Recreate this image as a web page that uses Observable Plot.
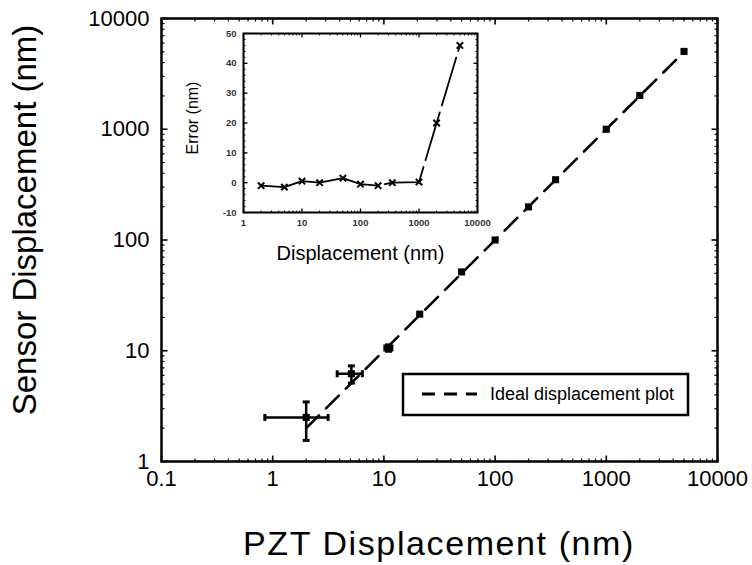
<!DOCTYPE html>
<html>
<head>
<meta charset="utf-8">
<script src="https://cdn.jsdelivr.net/npm/d3@7"></script>
<script src="https://cdn.jsdelivr.net/npm/@observablehq/plot@0.6"></script>
<style>
  html, body { margin: 0; padding: 0; background: #fff; }
  #wrap { position: relative; width: 752px; height: 565px; font-family: "Liberation Sans", Arial, sans-serif; }
  #inset { position: absolute; left: 190px; top: 20px; }
</style>
</head>
<body>
<div id="wrap"><div id="main"></div><div id="inset"></div></div>
<script>
// ---- Main chart data ----
const pzt       = [2, 5.1, 11, 21, 50, 100, 200, 350, 1000, 2000, 5000];
const sensor    = [2.5, 6.2, 10.6, 21.4, 51.5, 100, 199, 350, 1000, 2020, 5046];
const pztErr    = [1.15, 1.3, 0.8, 0, 0, 0, 0, 0, 0, 0, 0];
const sensorErr = [0.95, 1.1, 0.7, 0, 0, 0, 0, 0, 0, 0, 0];
const idealX    = [2, 5000];
const xTicks      = [0.1, 1, 10, 100, 1000, 10000];
const xTickLabels = ["0.1", "1", "10", "100", "1000", "10000"];
const yTicks      = [1, 10, 100, 1000, 10000];
const yTickLabels = ["1", "10", "100", "1000", "10000"];
const xTitle = "PZT Displacement (nm)";
const yTitle = "Sensor Displacement (nm)";
const legendLabel = "Ideal displacement plot";

// ---- Inset data ----
const inX   = [2, 5, 10, 20, 50, 100, 200, 350, 1000, 2000, 5000];
const inErr = [-1, -1.5, 0.5, 0, 1.5, -0.5, -1, 0, 0.2, 20, 46];
const inXTicks = [1, 10, 100, 1000, 10000];
const inXTickLabels = ["1", "10", "100", "1000", "10000"];
const inYTicks = [-10, 0, 10, 20, 30, 40, 50];
const inYTickLabels = ["-10", "0", "10", "20", "30", "40", "50"];
const inXTitle = "Displacement (nm)";
const inYTitle = "Error (nm)";

// ---- helpers ----
const FONT = "'Liberation Sans', Arial, sans-serif";
const seg = (dx, dy) => ({draw(ctx, size) { const L = Math.sqrt(size / Math.PI); ctx.moveTo(0, 0); ctx.lineTo(dx * L, dy * L); }});
const capV = {draw(ctx, size) { const L = Math.sqrt(size / Math.PI); ctx.moveTo(0, -L); ctx.lineTo(0, L); }};
const capH = {draw(ctx, size) { const L = Math.sqrt(size / Math.PI); ctx.moveTo(-L, 0); ctx.lineTo(L, 0); }};
const minorLog = (decades) => decades.slice(0, -1).flatMap(d => d3.range(2, 10).map(k => k * d));
function frameTicks(xs, ys, len, sw) {
  return [
    Plot.dot(xs, {x: d => d, frameAnchor: "bottom", symbol: seg(0, -1), r: len, stroke: "black", fill: "none", strokeWidth: sw}),
    Plot.dot(xs, {x: d => d, frameAnchor: "top", symbol: seg(0, 1), r: len, stroke: "black", fill: "none", strokeWidth: sw}),
    Plot.dot(ys, {y: d => d, frameAnchor: "left", symbol: seg(1, 0), r: len, stroke: "black", fill: "none", strokeWidth: sw}),
    Plot.dot(ys, {y: d => d, frameAnchor: "right", symbol: seg(-1, 0), r: len, stroke: "black", fill: "none", strokeWidth: sw})
  ];
}

const idx = d3.range(pzt.length);
const errIdx = idx.filter(i => pztErr[i] > 0 || sensorErr[i] > 0);

const main = Plot.plot({
  width: 752, height: 565,
  marginLeft: 161, marginRight: 35, marginTop: 18, marginBottom: 104,
  style: {fontFamily: FONT, background: "white", overflow: "visible"},
  x: {type: "log", domain: [0.1, 10000], axis: null},
  y: {type: "log", domain: [1, 10000], axis: null},
  marks: [
    ...frameTicks(minorLog(xTicks), minorLog(yTicks), 3, 1.2),
    ...frameTicks(xTicks, yTicks, 6, 1.6),
    Plot.frame({stroke: "black", strokeWidth: 2.5}),
    Plot.line(idealX, {x: d => d, y: d => d, stroke: "black", strokeWidth: 2.6, strokeDasharray: "18,10"}),
    // error bars
    Plot.link(errIdx, {x1: i => pzt[i] - pztErr[i], x2: i => pzt[i] + pztErr[i], y1: i => sensor[i], y2: i => sensor[i], stroke: "black", strokeWidth: 2.5}),
    Plot.link(errIdx, {x1: i => pzt[i], x2: i => pzt[i], y1: i => sensor[i] - sensorErr[i], y2: i => sensor[i] + sensorErr[i], stroke: "black", strokeWidth: 2.5}),
    Plot.dot(errIdx.flatMap(i => [[pzt[i] - pztErr[i], sensor[i]], [pzt[i] + pztErr[i], sensor[i]]]), {x: d => d[0], y: d => d[1], symbol: capV, r: 3.5, stroke: "black", fill: "none", strokeWidth: 3}),
    Plot.dot(errIdx.flatMap(i => [[pzt[i], sensor[i] - sensorErr[i]], [pzt[i], sensor[i] + sensorErr[i]]]), {x: d => d[0], y: d => d[1], symbol: capH, r: 3.5, stroke: "black", fill: "none", strokeWidth: 3}),
    Plot.dot(idx, {x: i => pzt[i], y: i => sensor[i], symbol: "square", r: 4, fill: "black"}),
    // tick labels
    Plot.text(yTicks, {y: d => d, text: (d, i) => yTickLabels[i], frameAnchor: "left", dx: -12, textAnchor: "end", fontSize: 22, fill: "black"}),
    Plot.text(xTicks, {x: d => d, text: (d, i) => xTickLabels[i], frameAnchor: "bottom", dy: 17, lineAnchor: "middle", fontSize: 22, fill: "black"})
  ]
});
document.getElementById("main").appendChild(main);

const svg = d3.select(main);
// x title
svg.append("text").attr("x", 439).attr("y", 555)
  .attr("text-anchor", "middle").attr("font-size", 34).attr("font-family", FONT).attr("fill", "black")
  .attr("letter-spacing", "1.6px").text(xTitle);
// y title (rotated)
svg.append("text").attr("transform", "translate(36,220) rotate(-90)")
  .attr("text-anchor", "middle").attr("font-size", 33).attr("font-family", FONT).attr("fill", "black")
  .text(yTitle);
// legend box
const lg = svg.append("g");
lg.append("rect").attr("x", 403).attr("y", 374).attr("width", 285).attr("height", 41)
  .attr("fill", "white").attr("stroke", "black").attr("stroke-width", 2.5);
lg.append("line").attr("x1", 422).attr("x2", 477).attr("y1", 394).attr("y2", 394)
  .attr("stroke", "black").attr("stroke-width", 3).attr("stroke-dasharray", "13,9");
lg.append("text").attr("x", 490).attr("y", 400).attr("text-anchor", "start").attr("font-size", 18).attr("fill", "black")
  .attr("font-family", FONT).text(legendLabel);

// ---- Inset ----
const inIdx = d3.range(inX.length);
const inset = Plot.plot({
  width: 310, height: 250,
  marginLeft: 53, marginRight: 23, marginTop: 13, marginBottom: 58,
  style: {fontFamily: FONT, background: "transparent", overflow: "visible"},
  x: {type: "log", domain: [1, 10000], axis: null},
  y: {domain: [-10, 50], axis: null},
  marks: [
    ...frameTicks(minorLog(inXTicks), d3.range(-10, 51, 2), 2, 1),
    ...frameTicks(inXTicks, inYTicks, 4, 1.3),
    Plot.frame({stroke: "black", strokeWidth: 2}),
    Plot.line(inIdx.slice(0, 7), {x: i => inX[i], y: i => inErr[i], stroke: "black", strokeWidth: 1.8}),
    Plot.line(inIdx.slice(6), {x: i => inX[i], y: i => inErr[i], stroke: "black", strokeWidth: 1.8, strokeDasharray: "0,7,50,0"}),
    Plot.dot(inIdx, {x: i => inX[i], y: i => inErr[i], symbol: "times", r: 3, stroke: "black", strokeWidth: 2}),
    Plot.text(inYTicks, {y: d => d, text: (d, i) => inYTickLabels[i], frameAnchor: "left", dx: -7, textAnchor: "end", fontSize: 9.5, fontWeight: "bold", fill: "#333"}),
    Plot.text(inXTicks, {x: d => d, text: (d, i) => inXTickLabels[i], frameAnchor: "bottom", dy: 10, lineAnchor: "middle", fontSize: 9.5, fontWeight: "bold", fill: "#333"}),
    Plot.text([inXTitle], {text: d => d, frameAnchor: "bottom", dy: 47, lineAnchor: "bottom", fontSize: 20, fill: "black"})
  ]
});
document.getElementById("inset").appendChild(inset);
d3.select(inset).append("text").attr("transform", "translate(8,98) rotate(-90)")
  .attr("text-anchor", "middle").attr("font-size", 16).attr("font-family", FONT).attr("fill", "black")
  .text(inYTitle);
</script>
</body>
</html>
